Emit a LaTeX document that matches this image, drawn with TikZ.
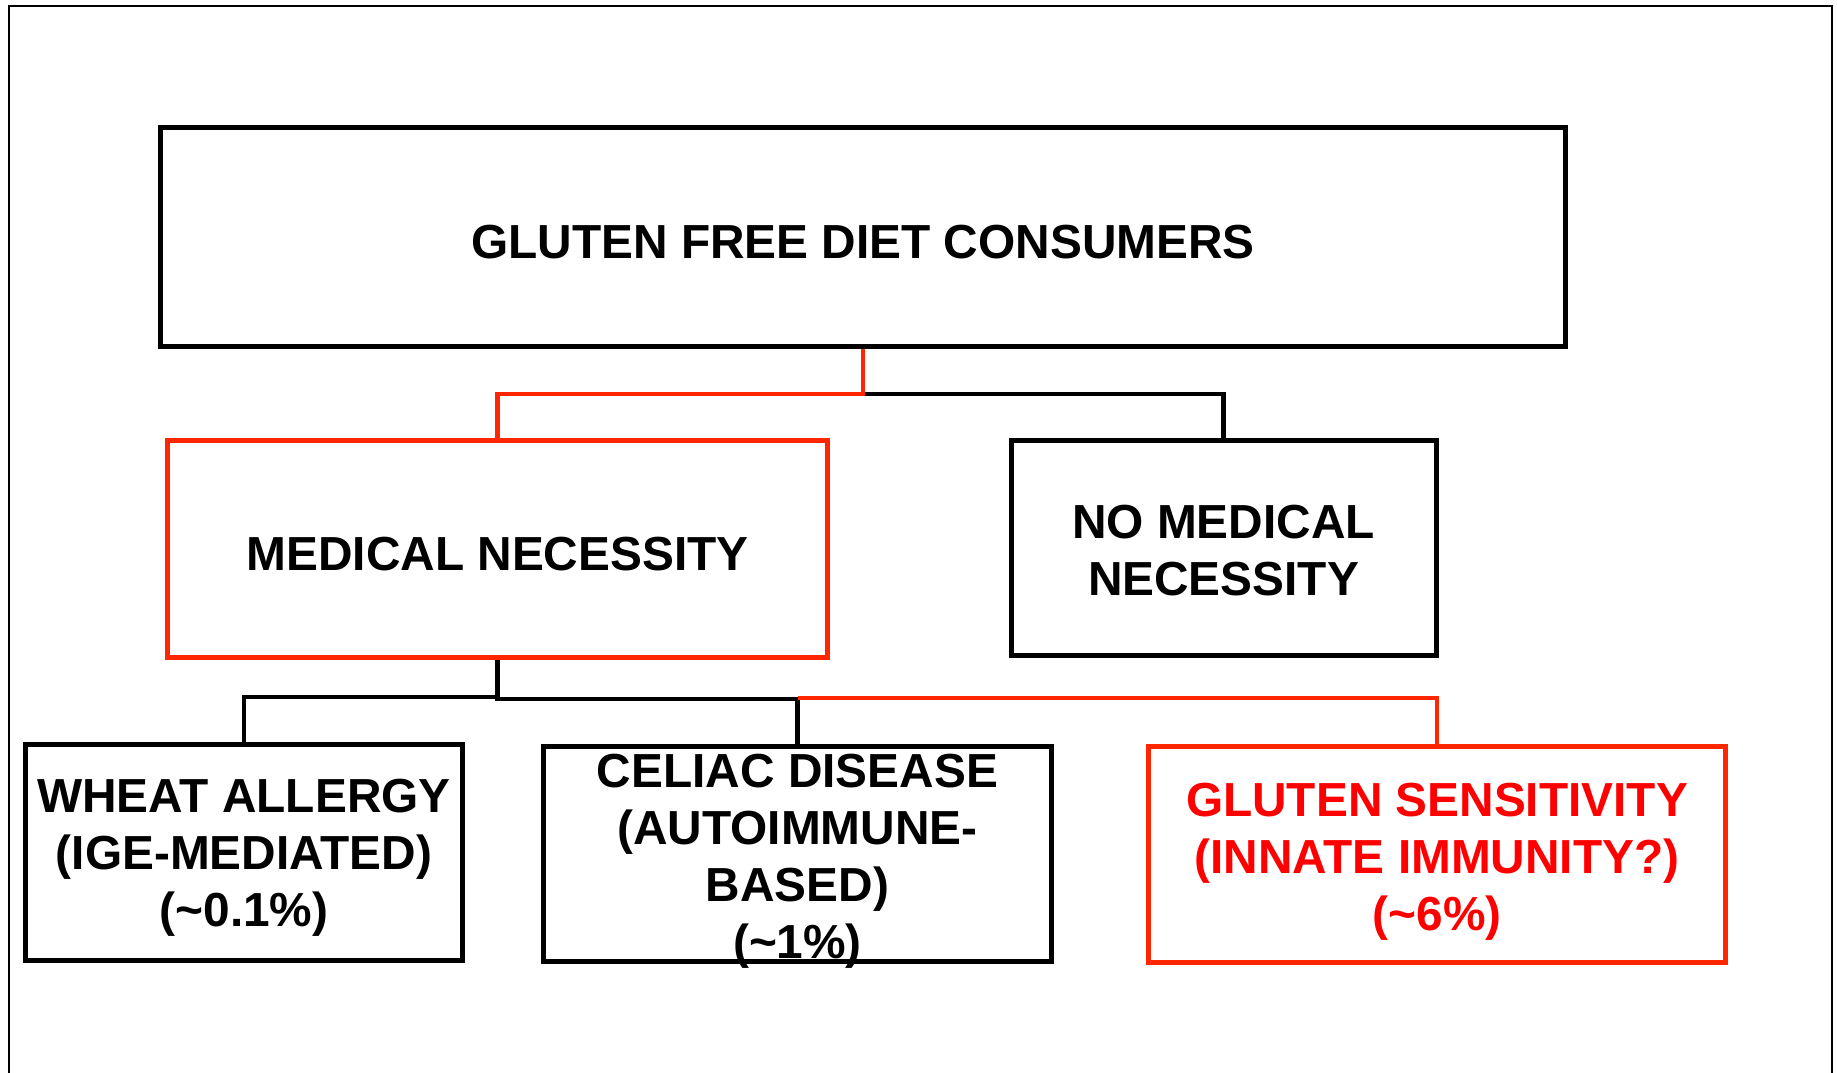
\documentclass[tikz,border=0pt]{standalone}
\usepackage{fontspec}
\setmainfont{Liberation Sans}
\definecolor{linered}{RGB}{255,38,0}
\definecolor{textred}{RGB}{255,0,0}
\begin{document}
\begin{tikzpicture}[x=1pt,y=-1pt,
  box/.style={draw,line width=5pt,align=center,inner sep=0pt,
    font=\bfseries\fontsize{47.8}{57}\selectfont},
  textdrop/.style={execute at begin node=\rule{0pt}{#1}},
  conn/.style={line width=4.5pt}]
\useasboundingbox (0,0) rectangle (1837,1073);
\draw[line width=2pt] (9,1073)--(9,6)--(1832,6)--(1832,1073);
\node[box,textdrop=43pt,minimum width=1405pt,minimum height=219pt] (top) at (863,237) {GLUTEN FREE DIET CONSUMERS};
\node[box,textdrop=43pt,draw=linered,minimum width=660pt,minimum height=217pt] (med) at (497.5,549) {MEDICAL NECESSITY};
\node[box,textdrop=95pt,minimum width=425pt,minimum height=215pt] (nomed) at (1223.5,548) {NO MEDICAL\\NECESSITY};
\node[box,textdrop=158.2pt,minimum width=437pt,minimum height=216pt] (wheat) at (244,852.5) {WHEAT ALLERGY\\(IGE-MEDIATED)\\(\textasciitilde0.1\%)};
\node[box,text height=208pt,text depth=0pt,minimum width=508pt,minimum height=215pt] (celiac) at (797.5,854) {CELIAC DISEASE\\(AUTOIMMUNE-\\BASED)\\(\textasciitilde1\%)};
\node[box,textdrop=162.8pt,draw=linered,text=textred,minimum width=577pt,minimum height=216pt] (sens) at (1437,854.5) {GLUTEN SENSITIVITY\\(INNATE IMMUNITY?)\\(\textasciitilde6\%)};
% top split
\coordinate (j1) at (863,394);
\draw[conn] (j1) -| (nomed.north);
\draw[conn,linered] (top.south) -- (j1) -| (med.north);
% bottom split
\coordinate (j2) at (497.5,697);
\draw[conn] (med.south) -- (j2) -| (wheat.north);
\draw[conn] (j2) -- ++(0,2) -| (celiac.north);
\draw[conn,linered] (celiac.north |- 0,698) -| (sens.north);
\end{tikzpicture}
\end{document}
